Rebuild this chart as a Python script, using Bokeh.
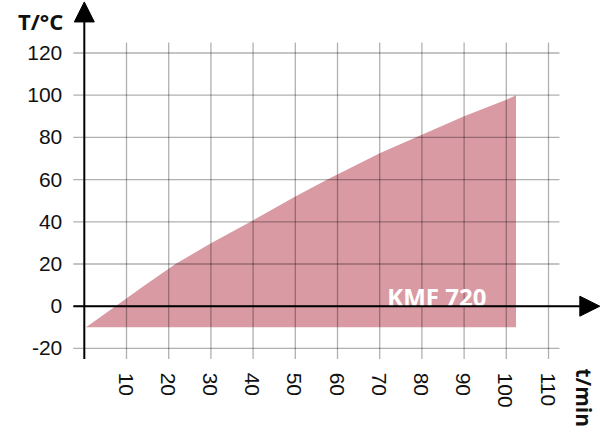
import math
from bokeh.plotting import figure
from bokeh.models import Range1d, Arrow, NormalHead
from bokeh.core.properties import value
from bokeh.embed import file_html
from bokeh.resources import INLINE

# ---- data ----
x_ticks = [10, 20, 30, 40, 50, 60, 70, 80, 90, 100, 110]
y_ticks = [-20, 0, 20, 40, 60, 80, 100, 120]
x_tick_labels = ["10", "20", "30", "40", "50", "60", "70", "80", "90", "100", "110"]
y_tick_labels = ["-20", "0", "20", "40", "60", "80", "100", "120"]
curve_t = [0.4, 7.4, 14, 21.6, 30, 39.4, 50, 57.6, 70, 78.5, 90, 100, 102.3]
curve_T = [-10, 0, 9.5, 20, 29.8, 40, 52, 60, 72.5, 80, 90, 97.8, 100]
base_T = -10
series_label = "KMF 720"
x_title = "t/min"
y_title = "T/°C"

# ---- figure ----
W, H = 600, 432
p = figure(width=W, height=H, x_range=Range1d(-19.858, 122.32),
           y_range=Range1d(-59.86, 144.88), x_axis_type=None, y_axis_type=None,
           toolbar_location=None, output_backend="svg", title=None,
           min_border=0, min_border_left=0, min_border_right=0,
           min_border_top=0, min_border_bottom=0)
p.outline_line_color = None
p.background_fill_color = "white"
p.border_fill_color = "white"

# filled region
xs = curve_t + [curve_t[-1]]
ys = curve_T + [base_T]
p.patch(xs, ys, fill_color="#d99aa3", line_color=None)

# grid (drawn over the fill, semi-transparent dark so it darkens inside fill)
ext_t = 2.6
ext_T = 5
p.segment(x0=x_ticks, y0=[y_ticks[0] - ext_T] * len(x_ticks),
          x1=x_ticks, y1=[y_ticks[-1] + ext_T] * len(x_ticks),
          line_color="black", line_alpha=0.31, line_width=1.3)
p.segment(x0=[-ext_t] * len(y_ticks), y0=y_ticks,
          x1=[x_ticks[-1] + ext_t] * len(y_ticks), y1=y_ticks,
          line_color="black", line_alpha=0.31, line_width=1.3)

# axes with arrows
p.add_layout(Arrow(end=NormalHead(size=20, fill_color="black", line_color="black", line_width=1),
                   x_start=-ext_t, y_start=0, x_end=122.16, y_end=0,
                   line_color="black", line_width=2))
p.add_layout(Arrow(end=NormalHead(size=20, fill_color="black", line_color="black", line_width=1),
                   x_start=0, y_start=y_ticks[0] - ext_T, x_end=0, y_end=144.2,
                   line_color="black", line_width=2))

# tick labels
p.text(x=[0] * len(y_ticks), y=y_ticks, text=y_tick_labels,
       text_font=value("Liberation Sans"), text_font_size="21px",
       text_color="#111111", text_align="right", text_baseline="middle",
       x_offset=-22)
label_T = -31.5
p.text(x=x_ticks, y=[label_T] * len(x_ticks), text=x_tick_labels,
       angle=-math.pi / 2, text_font=value("Liberation Sans"), text_font_size="21px",
       text_color="#111111", text_align="left", text_baseline="middle",
       x_offset=-1)

# titles
p.text(x=[0], y=[135.4], text=[y_title], text_font=value("Open Sans"),
       text_font_style="bold", text_font_size="22px", text_color="#111111",
       text_align="right", text_baseline="alphabetic", x_offset=-21)
p.text(x=[118.5], y=[-29.5], text=[x_title], angle=-math.pi / 2,
       text_font=value("Open Sans"), text_font_style="bold", text_font_size="21px",
       text_color="#111111", text_align="left", text_baseline="middle")
p.text(x=[71.8], y=[4.4], text=[series_label], text_font=value("Open Sans"),
       text_font_style="bold", text_font_size="24px", text_color="white",
       text_align="left", text_baseline="alphabetic")

open("out.html", "w").write(file_html(p, INLINE))
